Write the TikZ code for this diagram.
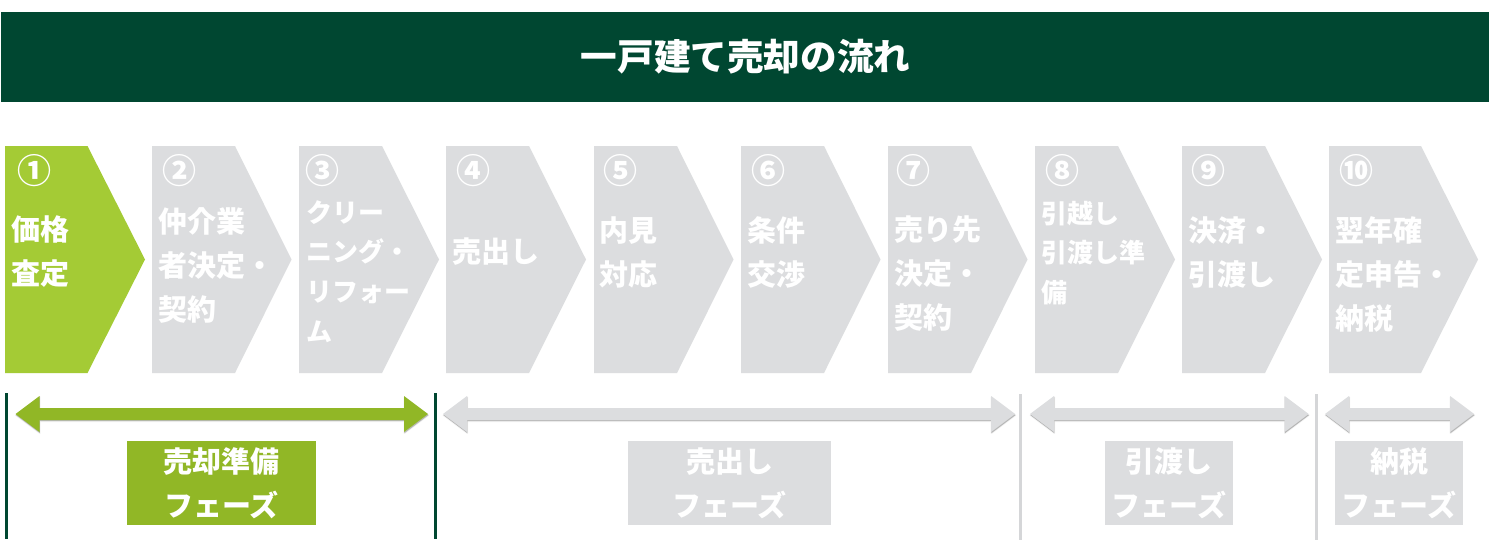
\documentclass[tikz,border=0pt]{standalone}
\usepackage{fontspec}
\setmainfont{Noto Sans CJK JP}
\usetikzlibrary{calc}
\definecolor{darkgreen}{HTML}{004731}
\definecolor{stepgreen}{HTML}{A4CB35}
\definecolor{phasegreen}{HTML}{91B726}
\definecolor{softgray}{HTML}{DCDDDF}
\definecolor{rulegray}{HTML}{D5D6D8}
\tikzset{
  x=1pt,y=-1pt,
  banner/.style={fill=darkgreen,draw=none},
  titletext/.style={text=white,font=\fontsize{36.6}{36.6}\selectfont\bfseries,inner sep=0pt},
  numtext/.style={text=white,font=\fontsize{34}{34}\selectfont\bfseries,inner sep=0pt},
  bigtext/.style={text=white,anchor=west,align=left,inner sep=0pt,font=\fontsize{29}{44}\selectfont\bfseries},
  smalltext/.style={text=white,anchor=west,align=left,inner sep=0pt,font=\fontsize{26}{39.6}\selectfont\bfseries},
  phasetext/.style={text=white,align=center,inner sep=0pt,font=\fontsize{29}{44}\selectfont\bfseries},
  box/.style={minimum height=84pt,inner sep=0pt,outer sep=0pt,draw=none},
}
% pentagon: left, shoulder, tip, colour
\newcommand{\pent}[4]{\fill[#4] (#1,146) -- (#2,146) -- (#3,259.5) -- (#2,373) -- (#1,373) -- cycle;}
% double block arrow between two named coordinates
\newcommand{\blockpath}[2]{%
  ($(#1)$) -- ($(#1)+(24,-18)$) -- ($(#1)+(24,-6)$) -- ($(#2)+(-24,-6)$) -- ($(#2)+(-24,-18)$) --
  ($(#2)$) -- ($(#2)+(-24,18)$) -- ($(#2)+(-24,6)$) -- ($(#1)+(24,6)$) -- ($(#1)+(24,18)$) -- cycle}
\newcommand{\dblarrow}[4]{%
  \coordinate (#1) at (#3); \coordinate (#2) at (#4);}
\begin{document}
\begin{tikzpicture}
\useasboundingbox (0,0) rectangle (1493,543);
\fill[white] (0,0) rectangle (1493,543);
% title
\node[banner,minimum width=1488pt,minimum height=90pt,inner sep=0pt,outer sep=0pt,anchor=north west] (title) at (1,12) {};
\node[titletext] (titlelabel) at (745.5,57) {一戸建て売却の流れ};
% steps
\pent{5}{87.5}{145}{stepgreen}
\pent{152}{235}{291.5}{softgray}
\pent{299}{382}{439}{softgray}
\pent{446}{529}{586}{softgray}
\pent{594}{677}{733.5}{softgray}
\pent{741}{824}{880.5}{softgray}
\pent{888}{971}{1027.5}{softgray}
\pent{1035}{1118}{1175}{softgray}
\pent{1182}{1265}{1322}{softgray}
\pent{1329}{1421}{1478}{softgray}
% numbers
\node[numtext] (n1) at (34,171) {①};
\node[numtext] (n2) at (179,171) {②};
\node[numtext] (n3) at (322,171) {③};
\node[numtext] (n4) at (473,171) {④};
\node[numtext] (n5) at (620,171) {⑤};
\node[numtext] (n6) at (768,171) {⑥};
\node[numtext] (n7) at (913,171) {⑦};
\node[numtext] (n8) at (1062,171) {⑧};
\node[numtext] (n9) at (1208,171) {⑨};
\node[numtext] (n10) at (1356,171) {⑩};
% step labels
\node[bigtext] (s1) at (11,252) {価格\\査定};
\node[bigtext] (s2) at (158,265) {仲介業\\者決定・\\契約};
\node[smalltext] (s3) at (306,271.5) {クリー\\ニング・\\リフォー\\ム};
\node[bigtext] (s4) at (452,252) {売出し};
\node[bigtext] (s5) at (599.5,252) {内見\\対応};
\node[bigtext] (s6) at (747,252) {条件\\交渉};
\node[bigtext] (s7) at (894,274) {売り先\\決定・\\契約};
\node[smalltext] (s8) at (1041,253) {引越し\\引渡し準\\備};
\node[bigtext] (s9) at (1188,252) {決済・\\引渡し};
\node[bigtext] (s10) at (1335,274) {翌年確\\定申告・\\納税};
% dividers
\coordinate (d1a) at (6.5,393); \coordinate (d1b) at (6.5,539);
\coordinate (d2a) at (435.5,393); \coordinate (d2b) at (435.5,539);
\coordinate (d3a) at (1020.5,394); \coordinate (d3b) at (1020.5,540);
\coordinate (d4a) at (1316.5,394); \coordinate (d4b) at (1316.5,540);
\draw[darkgreen,line width=2.6pt] (d1a) -- (d1b);
\draw[darkgreen,line width=2.6pt] (d2a) -- (d2b);
\draw[rulegray,line width=2.6pt] (d3a) -- (d3b);
\draw[rulegray,line width=2.6pt] (d4a) -- (d4b);
% phase arrows
\dblarrow{a1l}{a1r}{15.5,414}{428,414}
\dblarrow{a2l}{a2r}{443,414}{1015,414}
\dblarrow{a3l}{a3r}{1030,414}{1308.5,414}
\dblarrow{a4l}{a4r}{1325,414}{1474,414}
\foreach \l/\r/\c in {a1l/a1r/phasegreen,a2l/a2r/softgray,a3l/a3r/softgray,a4l/a4r/softgray}{
  \coordinate (shl) at ($(\l)+(0.4,1.2)$);
  \coordinate (shr) at ($(\r)+(0.4,1.2)$);
  \filldraw[black,fill opacity=0.06,draw opacity=0.05,line join=round,line width=1.6pt] \blockpath{shl}{shr};
  \fill[black,opacity=0.2] \blockpath{shl}{shr};
  \fill[\c] \blockpath{\l}{\r};
}
% phase boxes
\node[box,fill=phasegreen,minimum width=189pt,phasetext] (p1) at (221.5,483) {売却準備\\フェーズ};
\node[box,fill=softgray,minimum width=203pt,phasetext] (p2) at (729.5,483) {売出し\\フェーズ};
\node[box,fill=softgray,minimum width=128pt,phasetext] (p3) at (1169,483) {引渡し\\フェーズ};
\node[box,fill=softgray,minimum width=128pt,phasetext] (p4) at (1399,483) {納税\\フェーズ};
\end{tikzpicture}
\end{document}
